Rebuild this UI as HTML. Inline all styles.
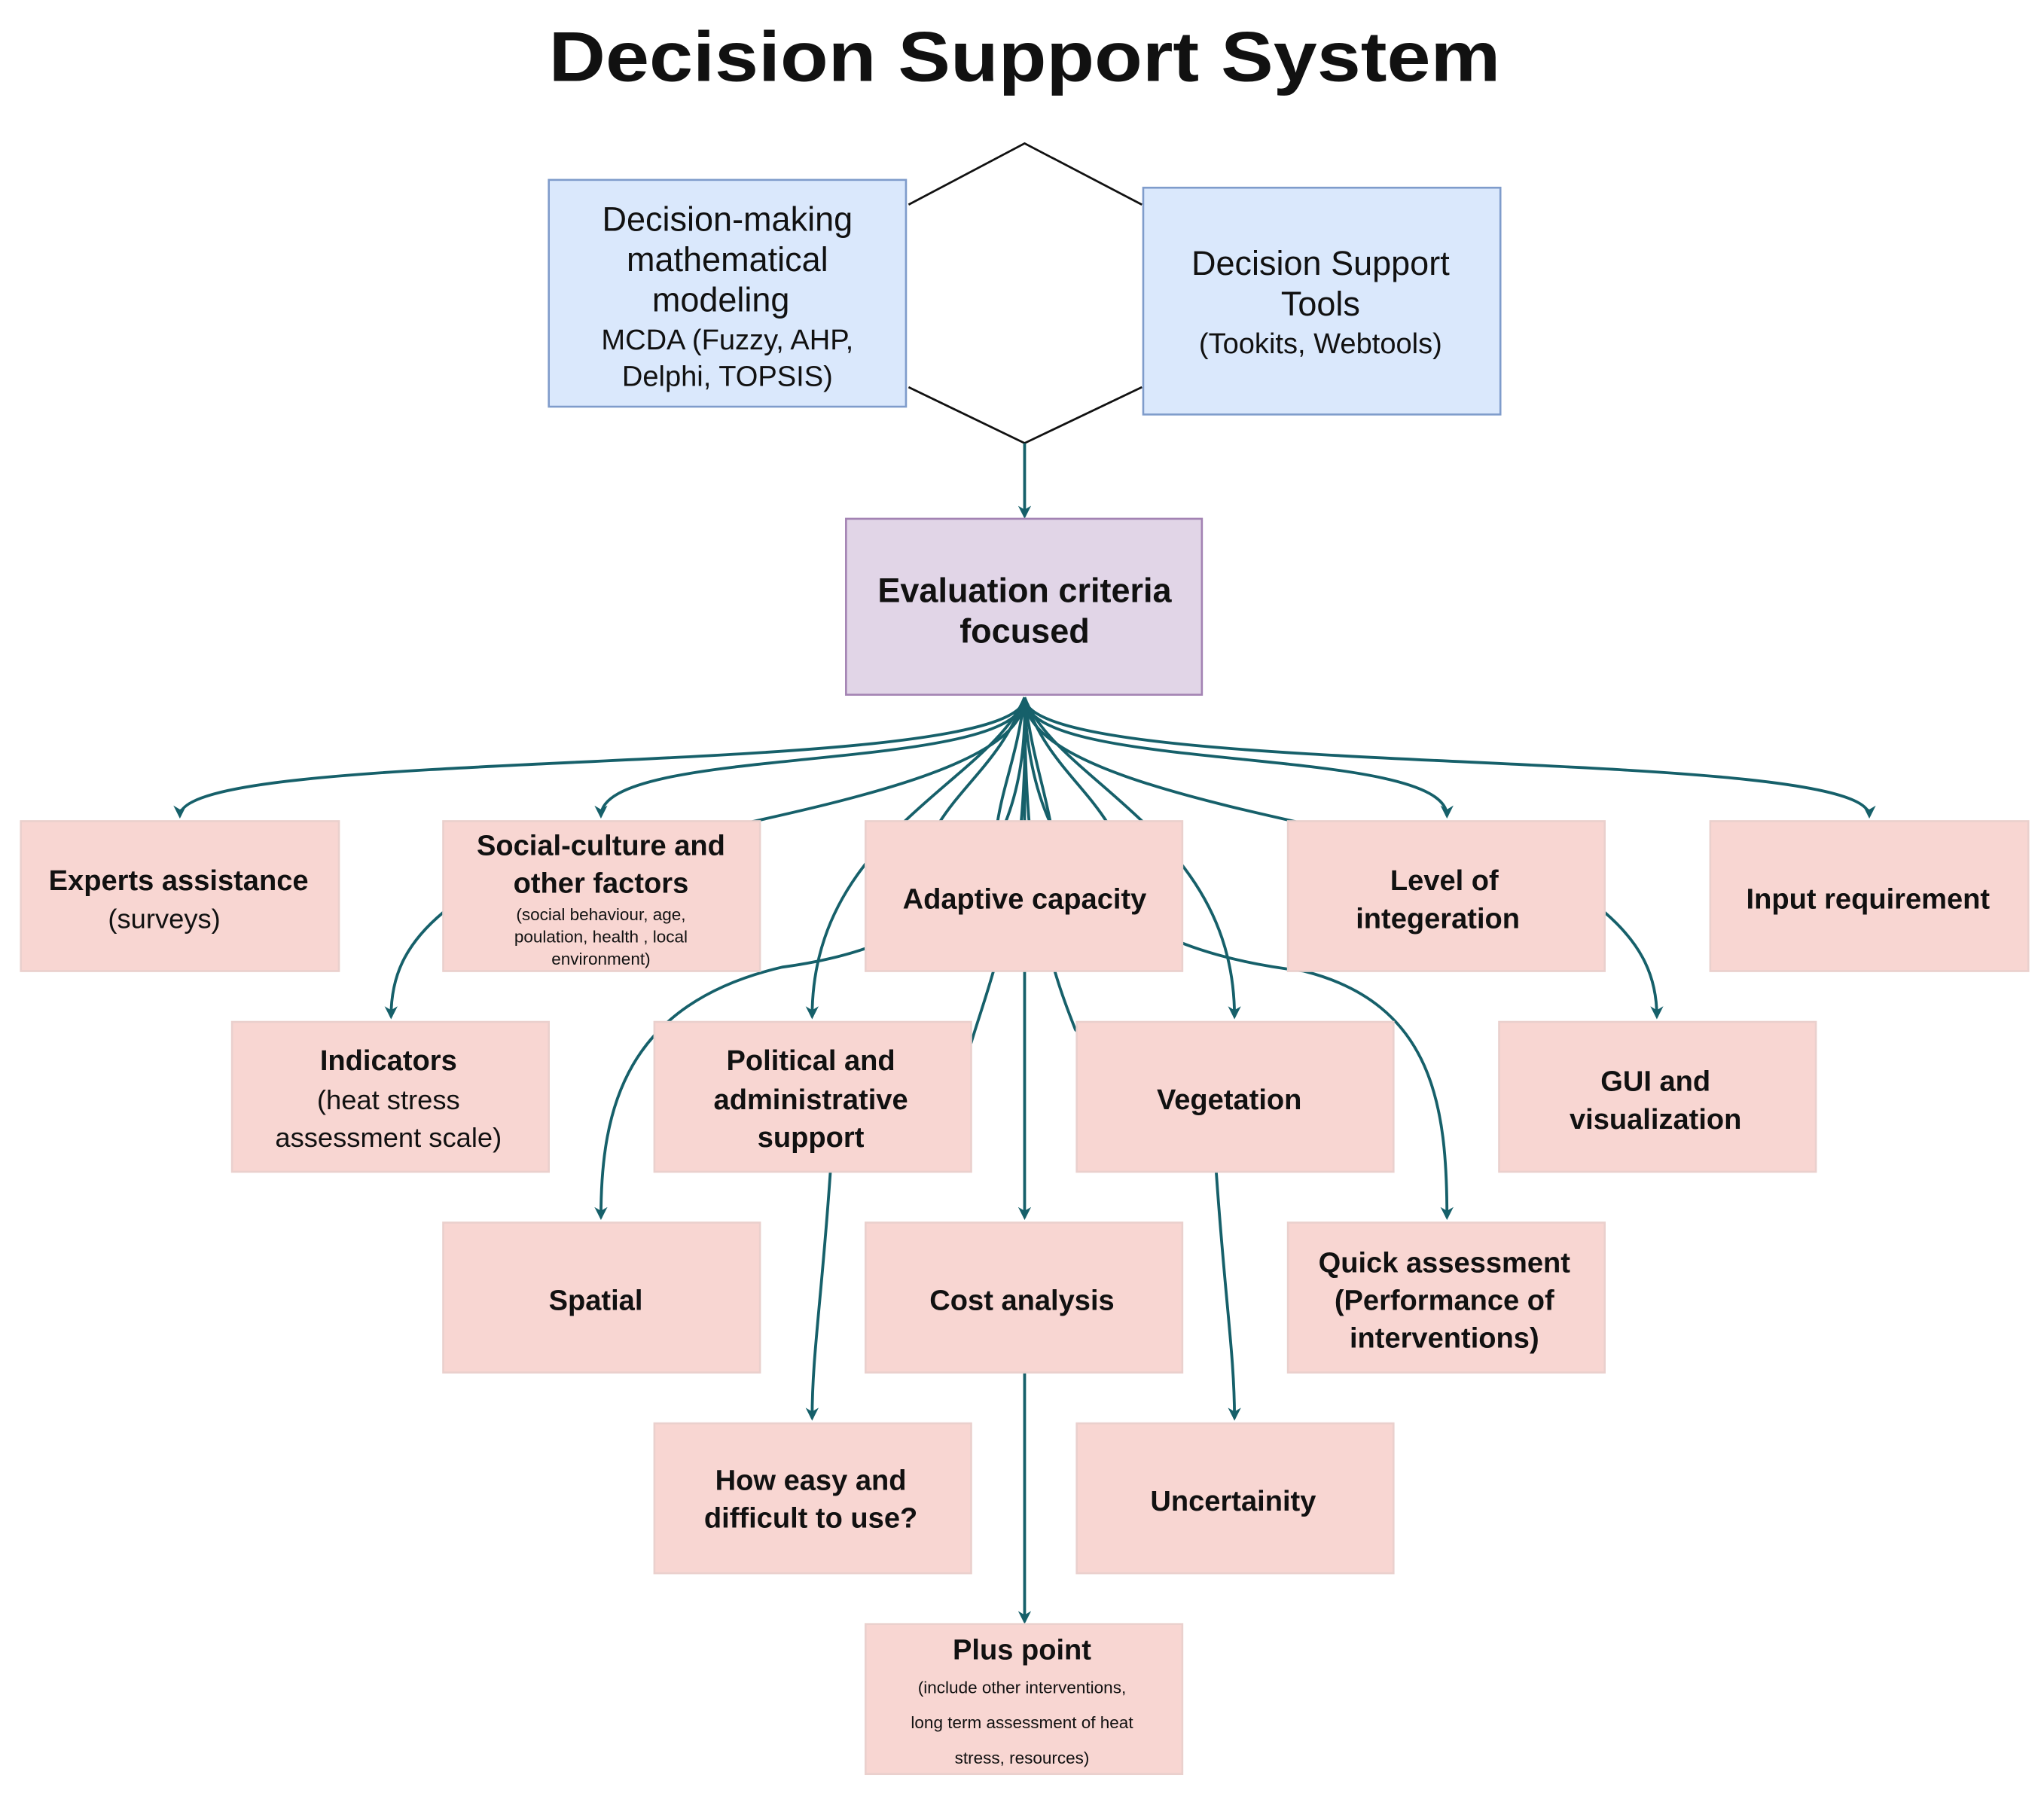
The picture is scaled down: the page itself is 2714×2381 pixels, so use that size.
<!DOCTYPE html>
<html><head><meta charset="utf-8"><style>
html,body{margin:0;padding:0;background:#fff}
svg{display:block}
text{font-family:"Liberation Sans",sans-serif;fill:#111}
.b{font-weight:bold;font-size:22px}
.n{font-size:21px}
.s{font-size:13px}
.e{fill:none;stroke:#16606a;stroke-width:2.2}
.bx{fill:#f8d6d2;stroke:#ead0cd;stroke-width:1.5}
</style></head><body>
<svg width="2714" height="2381" viewBox="0 0 1568 1375.6" xmlns="http://www.w3.org/2000/svg">
<defs><marker id="a" markerWidth="10" markerHeight="10" refX="8" refY="5" orient="auto" markerUnits="userSpaceOnUse"><path d="M0,0 L10,5 L0,10 L3,5 Z" fill="#16606a"/></marker></defs>
<text x="786" y="62" text-anchor="middle" font-size="54" font-weight="bold" textLength="730" lengthAdjust="spacingAndGlyphs">Decision Support System</text>
<path d="M697,157 L786,110 L876,157 M697,297 L786,340 L876,297" fill="none" stroke="#111" stroke-width="1.6"/>
<path class="e" d="M786,340 L786,396" marker-end="url(#a)"/>
<rect x="421" y="138" width="274" height="174" fill="#dae8fc" stroke="#7f9ccb" stroke-width="1.5"/>
<text x="558" y="177" text-anchor="middle" font-size="26">Decision-making</text>
<text x="558" y="208" text-anchor="middle" font-size="26">mathematical</text>
<text x="553" y="239" text-anchor="middle" font-size="26">modeling</text>
<text x="558" y="268" text-anchor="middle" font-size="22">MCDA (Fuzzy, AHP,</text>
<text x="558" y="296" text-anchor="middle" font-size="22">Delphi, TOPSIS)</text>
<rect x="877" y="144" width="274" height="174" fill="#dae8fc" stroke="#7f9ccb" stroke-width="1.5"/>
<text x="1013" y="211" text-anchor="middle" font-size="26">Decision Support</text>
<text x="1013" y="242" text-anchor="middle" font-size="26">Tools</text>
<text x="1013" y="271" text-anchor="middle" font-size="22">(Tookits, Webtools)</text>
<rect x="649" y="398" width="273" height="135" fill="#e1d5e7" stroke="#a383b3" stroke-width="1.5"/>
<text x="786" y="462" text-anchor="middle" font-size="26" font-weight="bold">Evaluation criteria</text>
<text x="786" y="493" text-anchor="middle" font-size="26" font-weight="bold">focused</text>
<!-- edges -->
<path class="e" d="M786,535 C786,600 138,570 138,626" marker-end="url(#a)"/>
<path class="e" d="M786,535 C786,595 461,570 461,626" marker-end="url(#a)"/>
<path class="e" d="M786,535 C786,595 1110,570 1110,626" marker-end="url(#a)"/>
<path class="e" d="M786,535 C786,600 1434,570 1434,626" marker-end="url(#a)"/>
<path class="e" d="M786,535 C786,620 420,640 340,700 C310,725 300,750 300,780" marker-end="url(#a)"/>
<path class="e" d="M786,535 C760,600 623,640 623,780" marker-end="url(#a)"/>
<path class="e" d="M786,535 C790,690 690,730 600,742 C480,770 461,850 461,934" marker-end="url(#a)"/>
<path class="e" d="M786,535 L786,934" marker-end="url(#a)"/>
<path class="e" d="M786,535 C790,680 760,750 745,800 C700,850 640,850 637,899 C630,1000 623,1040 623,1088" marker-end="url(#a)"/>
<path class="e" d="M786,535 C786,680 805,740 825,790 C880,850 930,860 933,899 C940,1000 947,1040 947,1088" marker-end="url(#a)"/>
<path class="e" d="M786,535 C810,600 947,640 947,780" marker-end="url(#a)"/>
<path class="e" d="M786,535 C790,690 890,732 1000,745 C1100,770 1110,850 1110,934" marker-end="url(#a)"/>
<path class="e" d="M786,535 C786,620 1150,640 1231,700 C1260,725 1271,750 1271,780" marker-end="url(#a)"/>
<path class="e" d="M786,535 C770,580 740,600 720,632 M786,535 C800,580 830,600 850,632 M786,535 C780,580 770,600 765,632 M786,535 C792,580 800,600 806,632"/>
<path class="e" d="M786,1053 L786,1244" marker-end="url(#a)"/>
<!-- boxes -->
<rect class="bx" x="16" y="630" width="244" height="115"/>
<text class="b" x="137" y="683" text-anchor="middle">Experts assistance</text>
<text class="n" x="126" y="712" text-anchor="middle">(surveys)</text>
<rect class="bx" x="340" y="630" width="243" height="115"/>
<text class="b" x="461" y="656" text-anchor="middle">Social-culture and</text>
<text class="b" x="461" y="685" text-anchor="middle">other  factors</text>
<text class="s" x="461" y="706" text-anchor="middle">(social behaviour, age,</text>
<text class="s" x="461" y="723" text-anchor="middle">poulation, health , local</text>
<text class="s" x="461" y="740" text-anchor="middle">environment)</text>
<rect class="bx" x="664" y="630" width="243" height="115"/>
<text class="b" x="786" y="697" text-anchor="middle">Adaptive capacity</text>
<rect class="bx" x="988" y="630" width="243" height="115"/>
<text class="b" x="1108" y="683" text-anchor="middle">Level of</text>
<text class="b" x="1103" y="712" text-anchor="middle">integeration</text>
<rect class="bx" x="1312" y="630" width="244" height="115"/>
<text class="b" x="1433" y="697" text-anchor="middle">Input requirement</text>
<rect class="bx" x="178" y="784" width="243" height="115"/>
<text class="b" x="298" y="821" text-anchor="middle">Indicators</text>
<text class="n" x="298" y="851" text-anchor="middle">(heat stress</text>
<text class="n" x="298" y="880" text-anchor="middle">assessment scale)</text>
<rect class="bx" x="502" y="784" width="243" height="115"/>
<text class="b" x="622" y="821" text-anchor="middle">Political and</text>
<text class="b" x="622" y="851" text-anchor="middle">administrative</text>
<text class="b" x="622" y="880" text-anchor="middle">support</text>
<rect class="bx" x="826" y="784" width="243" height="115"/>
<text class="b" x="943" y="851" text-anchor="middle">Vegetation</text>
<rect class="bx" x="1150" y="784" width="243" height="115"/>
<text class="b" x="1270" y="837" text-anchor="middle">GUI and</text>
<text class="b" x="1270" y="866" text-anchor="middle">visualization</text>
<rect class="bx" x="340" y="938" width="243" height="115"/>
<text class="b" x="457" y="1005" text-anchor="middle">Spatial</text>
<rect class="bx" x="664" y="938" width="243" height="115"/>
<text class="b" x="784" y="1005" text-anchor="middle">Cost analysis</text>
<rect class="bx" x="988" y="938" width="243" height="115"/>
<text class="b" x="1108" y="976" text-anchor="middle">Quick assessment</text>
<text class="b" x="1108" y="1005" text-anchor="middle">(Performance of</text>
<text class="b" x="1108" y="1034" text-anchor="middle">interventions)</text>
<rect class="bx" x="502" y="1092" width="243" height="115"/>
<text class="b" x="622" y="1143" text-anchor="middle">How easy and</text>
<text class="b" x="622" y="1172" text-anchor="middle">difficult to use?</text>
<rect class="bx" x="826" y="1092" width="243" height="115"/>
<text class="b" x="946" y="1159" text-anchor="middle">Uncertainity</text>
<rect class="bx" x="664" y="1246" width="243" height="115"/>
<text class="b" x="784" y="1273" text-anchor="middle">Plus point</text>
<text class="s" x="784" y="1299" text-anchor="middle">(include other interventions,</text>
<text class="s" x="784" y="1326" text-anchor="middle">long term assessment of heat</text>
<text class="s" x="784" y="1353" text-anchor="middle">stress, resources)</text>
</svg>
</body></html>
